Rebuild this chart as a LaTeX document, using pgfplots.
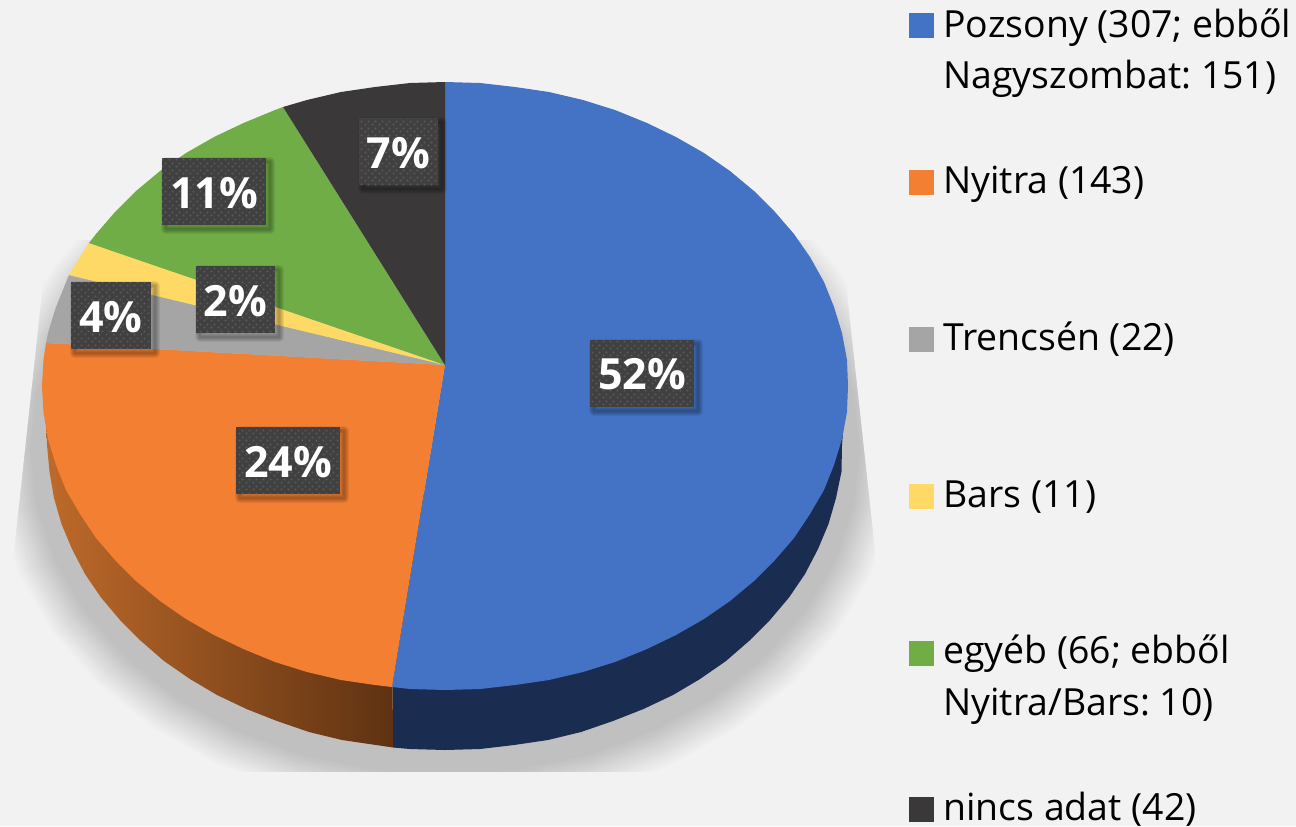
\documentclass[border=0pt]{standalone}
\usepackage{fontspec}
\setmainfont{Open Sans}
\usepackage{pgfplots}
\usepackage{pgfplotstable}
\pgfplotsset{compat=1.18}
\usetikzlibrary{patterns}
\definecolor{bg}{HTML}{F2F2F2}
\definecolor{shad}{HTML}{C0C0C0}
\definecolor{cblue}{HTML}{4472C4}
\definecolor{corange}{HTML}{F37F32}
\definecolor{cgray}{HTML}{A5A5A5}
\definecolor{cyellow}{HTML}{FFD966}
\definecolor{cgreen}{HTML}{70AD47}
\definecolor{cblack}{HTML}{3A3838}
\definecolor{navy}{HTML}{1A2C50}
\definecolor{sideL}{HTML}{BE6A2A}
\definecolor{sideR}{HTML}{5E3212}
\definecolor{boxbg}{HTML}{404040}
\definecolor{boxdot}{HTML}{5C5C5C}
\frenchspacing

% staggered dots of the data labels (1 px = 0.5 pt)
\pgfdeclarepatternformonly{boxdots}{\pgfqpoint{0pt}{0pt}}{\pgfqpoint{3.5pt}{3.5pt}}{\pgfqpoint{3.5pt}{3.5pt}}{
  \pgfpathrectangle{\pgfqpoint{0.3pt}{0.3pt}}{\pgfqpoint{1pt}{1pt}}
  \pgfpathrectangle{\pgfqpoint{2.05pt}{2.05pt}}{\pgfqpoint{1pt}{1pt}}
  \pgfusepath{fill}
}

% unit circle for the soft shadow
\pgfplotstableread{
u v
0 -1
0.1736 -0.9848
0.342 -0.9397
0.5 -0.866
0.6428 -0.766
0.766 -0.6428
0.866 -0.5
0.9397 -0.342
0.9848 -0.1736
1 0
0.9848 0.1736
0.9397 0.342
0.866 0.5
0.766 0.6428
0.6428 0.766
0.5 0.866
0.342 0.9397
0.1736 0.9848
0 1
-0.1736 0.9848
-0.342 0.9397
-0.5 0.866
-0.6428 0.766
-0.766 0.6428
-0.866 0.5
-0.9397 0.342
-0.9848 0.1736
-1 0
-0.9848 -0.1736
-0.9397 -0.342
-0.866 -0.5
-0.766 -0.6428
-0.6428 -0.766
-0.5 -0.866
-0.342 -0.9397
-0.1736 -0.9848
}\unitcircle

% one blur layer of a label shadow: width x0 y0 x1 y1
\newcommand{\blur}[5]{
  \addplot[draw=black,line width=#1,opacity=0.065,line join=round,fill=none,xshift=2pt,yshift=-2pt] coordinates {(#2,#3)(#4,#3)(#4,#5)(#2,#5)} --cycle;
}
% data label: x0 y0 x1 y1 cx baseline text
\newcommand{\lab}[7]{
  \blur{5pt}{#1}{#2}{#3}{#4}
  \blur{4pt}{#1}{#2}{#3}{#4}
  \blur{3pt}{#1}{#2}{#3}{#4}
  \blur{2pt}{#1}{#2}{#3}{#4}
  \blur{1pt}{#1}{#2}{#3}{#4}
  \addplot[draw=none,fill=boxbg] coordinates {(#1,#2)(#3,#2)(#3,#4)(#1,#4)} --cycle;
  \addplot[draw=none,pattern=boxdots,pattern color=boxdot] coordinates {(#1,#2)(#3,#2)(#3,#4)(#1,#4)} --cycle;
  \node[anchor=base,inner sep=0pt,text=white,font=\fontsize{21.5}{24}\selectfont\bfseries] at (axis cs:#5,#6) {#7};
}
% legend line
\newcommand{\legline}[3]{\node[anchor=base west,inner sep=0pt,text=black,font=\fontsize{18.7}{24}\selectfont] at (axis cs:#1,#2) {#3};}
% legend square
\newcommand{\legsq}[3]{\addplot[only marks,mark=square*,mark size=5.9pt,mark options={draw=#1,fill=#1,line width=0.2pt}] coordinates {(#2,#3)};}

\begin{document}
\begin{tikzpicture}
\begin{axis}[
  scale only axis, width=648pt, height=413pt,
  xmin=0, xmax=1296, ymin=0, ymax=826, y dir=reverse,
  hide axis, clip=true,
]
\addplot[draw=none,fill=bg] coordinates {(0,0)(1296,0)(1296,826)(0,826)} --cycle;

% soft shadow, outer to inner
\pgfplotsinvokeforeach{0,1,...,20}{
  \pgfmathsetmacro{\sr}{40-40*#1/20}
  \pgfmathsetmacro{\mx}{100*#1/20}
  \edef\temp{\noexpand\addplot[draw=none,fill=shad!\mx!bg] table[x expr={445+(415+\sr)*\noexpand\thisrow{u}},y expr={450+(325+\sr)*\noexpand\thisrow{v}}] {\noexpand\unitcircle} --cycle;}
  \temp
}
% trim the shadow to its frame
\addplot[draw=none,fill=bg] coordinates {(0,200)(52,200)(13,560)(13,772)(0,772)} --cycle;
\addplot[draw=none,fill=bg] coordinates {(837,200)(875,550)(875,772)(900,772)(900,200)} --cycle;
\addplot[draw=none,fill=bg] coordinates {(0,772)(900,772)(900,826)(0,826)} --cycle;
\addplot[draw=none,fill=bg] coordinates {(0,0)(900,0)(900,240)(0,240)} --cycle;

% side walls
\addplot[draw=none,fill=navy] coordinates {
(392,500)(844,420)(842,445)(841.5,471.6)(836,498)(828.5,524)(818,549)(805,574)(789,597.5)(770,620)(749,641)(726,661)
(700,679)(673,695)(643.5,709)(613,721)(581,732)(548,740)(514,745)(480,749)(445,750)(410,749)(393,747.5)} --cycle;
\addplot[draw=none,shade,left color=sideL,right color=sideR] coordinates {
(392,445)(392,600)(393,747.5)(376,745)(342,740)(309,732)(277,721)(246.5,709)(217,695)(190,679)(164,661)(141,641)
(120,620)(101,597.5)(85,574)(72,549)(61.5,524)(54,498)(49.5,471.6)(47,445)(46,420)} --cycle;

% top face slices
\addplot[draw=none,fill=cblue] coordinates {(445,365)
(445,82)(480,83)(515,87)(549,92)(583,100)(615,110)(647,123)(676,137)(704,153)(730,171)(754,191)(775,212)(794,234)
(810,257)(824,282)(834,307)(842,333)(847,360)(848,386)(847,412)(842,439)(834,465)(824,490)(810,514)(794,538)
(775,560)(754,581)(730,601)(704,619)(676,635)(647,649)(615,662)(583,672)(549,680)(515,685)(480,689)(445,690)
(410,689)(392,687)} --cycle;
\addplot[draw=none,fill=corange] coordinates {(445,365)
(392,687)(375,685)(341,680)(307,672)(275,662)(243.5,649)(214,635)(186,619)(160,601)(136,581)(115,560)(96,538)(80,514)
(66,490)(56,465)(48,439)(43.5,412)(42,386)(43.5,360)(46,343)} --cycle;
\addplot[draw=none,fill=cgray] coordinates {(445,365)(46,343)(48,333)(56,307)(69,275)} --cycle;
\addplot[draw=none,fill=cyellow] coordinates {(445,365)(69,275)(80,257)(89,243)} --cycle;
\addplot[draw=none,fill=cgreen] coordinates {(445,365)(89,243)(96,234)(115,212)(136,191)(160,171)(186,153)(214,137)(243.5,123)(275,110)(283,107)} --cycle;
\addplot[draw=none,fill=cblack] coordinates {(445,365)(283,107)(307,100)(341,92)(375,87)(410,83)(445,82)} --cycle;

% data labels
\lab{590}{340}{694}{407}{642}{389}{52\%}
\lab{236}{427}{340}{494}{288}{477}{24\%}
\lab{71}{282}{151}{349}{111}{332}{4\%}
\lab{196}{266}{275}{333}{235.5}{316}{2\%}
\lab{162}{158}{266}{225}{214}{208}{11\%}
\lab{359}{118}{438}{185}{398.5}{168}{7\%}

% legend
\legsq{cblue}{921}{25}
\legsq{corange}{921}{182}
\legsq{cgray}{921}{339}
\legsq{cyellow}{921}{496}
\legsq{cgreen}{921}{653}
\legsq{cblack}{921}{809}
\legline{943}{37}{Pozsony (307; ebből}
\legline{943}{88}{Nagyszombat: 151)}
\legline{943}{193}{Nyitra (143)}
\legline{943}{350}{Trencsén (22)}
\legline{943}{507}{Bars (11)}
\legline{943}{663}{egyéb (66; ebből}
\legline{943}{715}{Nyitra/Bars: 10)}
\legline{943}{820}{nincs adat (42)}
\end{axis}
\end{tikzpicture}
\end{document}
